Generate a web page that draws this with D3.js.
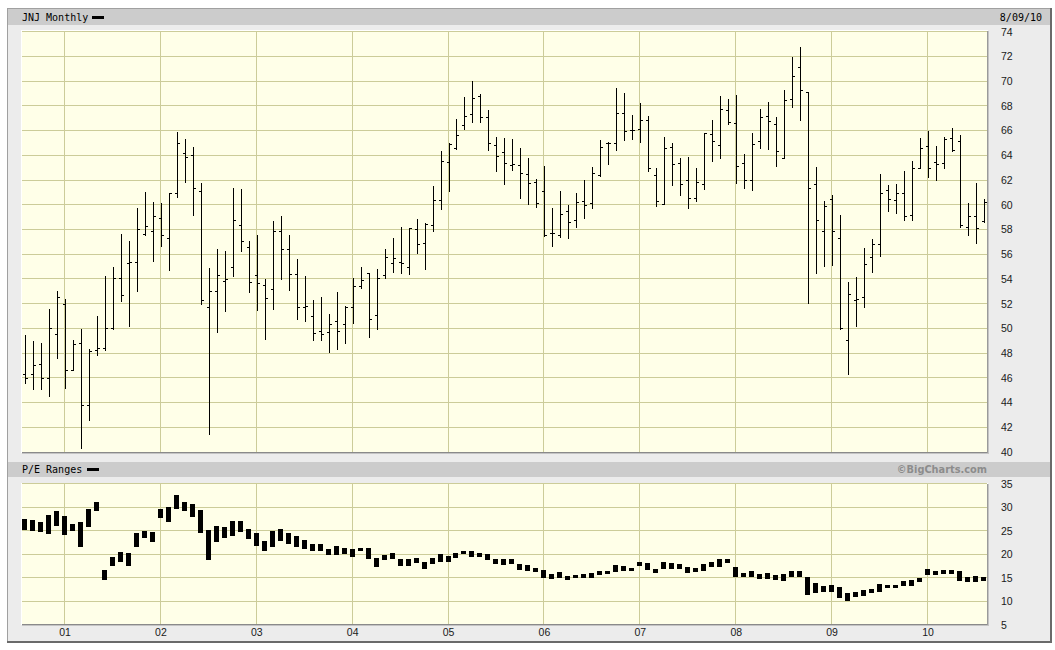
<!DOCTYPE html>
<html><head><meta charset="utf-8">
<script src="https://cdn.jsdelivr.net/npm/d3@7"></script>
<style>body{margin:0;background:#fff}svg{display:block}</style>
</head><body><svg id="c" width="1055" height="650"></svg>
<script>
// ---- categories ----
const months = d3.timeMonth.range(new Date(2000,7,1), new Date(2010,8,1)); // Aug 2000 .. Aug 2010
const yearLabels = ["01","02","03","04","05","06","07","08","09","10"];
const priceTicks = [40,42,44,46,48,50,52,54,56,58,60,62,64,66,68,70,72,74];
const peTicks = [5,10,15,20,25,30,35];

// ---- price series (monthly OHLC) ----
const open = [46.3,46.3,47.08,46.0,49.58,52.0,46.6,48.85,43.77,48.29,
48.45,50.06,54.1,55.3,55.4,57.6,57.88,58.93,57.31,60.95,
64.18,64.0,61.13,51.7,53.0,53.86,54.95,58.36,56.6,54.3,
53.5,53.18,57.87,56.41,54.42,51.72,50.99,49.78,49.7,50.59,
50.35,51.72,53.42,54.47,51.07,54.28,55.28,55.36,55.0,58.05,
56.87,58.35,60.4,63.42,64.63,66.44,67.36,68.76,67.09,64.82,
64.26,63.21,63.21,62.51,61.83,61.1,57.68,57.57,59.46,58.76,
60.27,60.11,62.37,64.96,65.01,67.44,66.01,66.12,66.82,62.43,
60.08,64.64,63.37,62.0,60.57,61.67,65.74,64.82,67.68,66.63,
63.36,61.99,65.14,67.16,66.51,63.8,68.53,71.12,69.13,61.67,
57.87,60.46,57.33,49.07,52.33,52.54,55.77,56.82,61.18,60.38,
60.94,59.19,62.96,64.74,63.42,63.34,65.38,65.14,58.2,59.06,58.68];
const high = [49.45,48.96,48.8,51.55,53.0,52.35,49.1,49.93,48.34,50.98,
54.2,55.0,57.6,57.1,59.7,61.05,60.25,60.14,60.97,65.9,
65.3,64.66,61.75,54.87,56.45,56.23,61.38,61.3,57.1,57.57,
54.0,58.7,59.1,57.57,55.63,54.25,52.31,52.56,51.18,52.93,
51.8,54.06,54.95,54.5,54.79,56.41,57.33,58.22,58.13,58.86,
58.54,61.53,64.31,65.03,66.95,68.73,70.03,68.92,67.68,65.5,
65.42,65.34,64.61,63.8,62.1,63.15,59.76,61.13,59.95,60.97,
62.02,63.07,65.2,65.07,69.46,69.06,67.28,68.25,67.2,62.96,
65.5,65.01,63.77,63.88,62.99,65.82,66.85,68.81,68.57,68.9,
64.12,65.81,67.75,68.32,67.11,69.29,71.95,72.79,69.13,63.07,
60.32,60.81,59.19,53.75,54.18,56.5,57.25,62.5,61.56,61.64,
62.75,63.5,65.41,66.0,64.76,65.52,66.22,65.63,60.16,61.78,60.46];
const low = [45.6,45.1,45.1,44.55,47.6,45.2,46.6,40.3,42.58,47.86,
48.26,49.96,52.2,50.17,53.0,57.53,55.43,56.64,54.7,60.6,
61.83,59.14,52.0,41.42,49.7,51.4,54.24,56.3,52.97,51.52,
49.13,51.53,54.0,53.07,50.72,50.56,49.02,49.1,48.05,48.3,
48.78,50.4,53.23,49.27,49.91,54.04,54.55,54.44,54.36,56.06,
54.77,57.87,59.62,61.15,64.5,66.09,66.66,66.68,64.39,62.7,
61.64,62.83,60.54,60.03,59.78,57.49,56.63,57.41,57.28,58.17,
58.95,59.7,62.29,63.26,64.47,65.2,65.28,65.09,62.7,59.87,
60.03,61.62,60.75,59.7,60.27,61.24,63.5,63.75,66.5,61.73,
61.32,61.16,64.6,64.55,63.1,63.77,67.94,66.89,52.06,54.45,
55.07,55.1,49.96,46.32,50.2,51.73,54.56,55.88,59.46,59.3,
58.73,58.79,62.96,62.21,62.02,63.01,64.36,58.2,57.52,56.88,58.6];
const close = [45.95,47.0,46.0,50.0,52.5,46.6,48.7,43.77,48.2,48.45,
50.0,54.1,52.73,55.4,58.0,58.28,59.09,57.55,60.95,64.98,
63.85,61.35,52.27,53.0,54.3,54.02,58.75,57.1,53.74,53.64,
52.45,57.87,56.41,54.42,51.72,51.8,49.62,49.54,50.35,49.78,
51.72,53.42,53.9,50.77,54.06,55.75,55.67,55.28,58.13,56.79,
58.43,60.4,63.5,64.95,65.68,67.17,68.63,67.09,65.01,63.94,
63.37,63.26,62.61,61.78,60.13,57.57,57.71,59.25,58.6,60.22,
59.97,62.56,64.66,65.01,67.44,65.96,66.04,66.85,62.94,60.27,
64.56,63.32,61.67,60.57,61.83,65.77,65.18,67.76,66.71,63.13,
61.99,64.9,67.08,66.78,64.33,68.45,70.39,69.26,61.35,58.73,
59.94,57.87,50.01,52.76,52.38,55.2,56.82,60.94,60.46,60.94,
59.11,63.01,64.58,62.96,63.31,65.36,64.44,58.33,59.06,58.11,60.21];

// ---- P/E ranges ----
const peHigh = [27.44,27.23,26.94,28.37,29.22,28.15,26.45,26.87,29.64,31.14,
16.64,19.41,20.48,20.26,24.53,24.95,24.74,29.64,30.07,32.63,
31.14,30.71,29.43,25.1,25.95,25.74,27.09,27.09,25.38,24.53,
22.82,24.95,25.38,24.53,23.89,23.03,22.25,22.25,21.19,21.83,
21.4,21.12,21.33,21.33,19.2,19.84,20.19,18.98,18.98,19.2,
18.34,19.2,19.98,19.62,20.19,20.69,20.62,20.26,19.98,18.98,
18.98,18.98,17.92,17.63,17.06,16.64,15.79,16.14,15.43,15.57,
15.71,15.93,16.35,16.43,17.63,17.49,17.06,18.27,18.13,16.92,
18.34,18.06,17.92,17.35,17.06,17.92,18.34,18.98,18.98,17.28,
16.0,16.35,15.86,16.0,15.64,15.79,16.43,16.43,15.15,13.87,
13.3,13.44,12.94,11.73,11.95,12.37,12.59,13.58,13.44,13.44,
14.29,14.51,14.93,16.85,16.43,16.57,16.57,16.43,15.07,15.36,15.15];
const peLow = [25.17,25.02,24.81,24.39,26.09,24.17,25.02,21.61,25.88,29.29,
14.58,17.56,18.42,17.56,21.61,23.53,22.68,27.8,26.94,29.72,
29.29,28.01,24.6,18.84,22.68,23.53,23.96,24.81,23.32,21.83,
20.76,21.61,22.89,22.25,21.61,21.19,20.62,20.62,19.77,19.77,
19.98,19.48,20.62,19.05,17.35,18.84,19.05,17.56,17.56,18.2,
16.92,17.99,18.42,18.42,19.2,19.98,19.48,19.41,18.84,17.99,
17.78,17.99,16.57,16.5,16.28,15.0,14.79,15.0,14.58,14.86,
15.0,14.93,15.57,15.79,16.21,16.5,16.5,17.49,16.71,16.0,
16.78,16.92,16.92,16.07,16.28,16.5,17.35,17.35,18.06,15.07,
15.07,15.07,14.79,14.79,14.51,14.36,15.07,15.07,11.38,11.81,
12.02,12.02,10.74,10.1,10.95,11.17,11.73,12.02,12.8,12.8,
13.23,13.23,14.08,15.57,15.57,15.79,15.79,14.36,14.15,14.15,14.36];

// ---- drawing ----
const svg = d3.select('#c').attr('shape-rendering','crispEdges');
const GRID = '#cccc99', PLOT = '#ffffe8', FRAME = '#ececec', BAND = '#cccccc';
const mono = '"DejaVu Sans Mono", monospace';
const sans = '"Liberation Sans", Arial, sans-serif';

const P1 = {x0:22, x1:987, y0:31, y1:452};
const P2 = {x0:22, x1:987, y0:484, y1:624};

const x = d3.scalePoint().domain(months).range([25.3, 983.5]);
const xc = d => Math.round(x(d));
const yP = d3.scaleLinear().domain([40,74]).range([452,31.7]);
const yE = d3.scaleLinear().domain([5,35]).range([624.7,483.8]);

const bars = months.map((m,i)=>({m, o:open[i], h:high[i], l:low[i], c:close[i], ph:peHigh[i], pl:peLow[i]}));
const jan = months.filter(d=>d.getMonth()===0);

// frame
svg.append('rect').attr('x',7).attr('y',8).attr('width',1044).attr('height',634).attr('fill',FRAME);
svg.append('rect').attr('x',7).attr('y',8).attr('width',1044).attr('height',1).attr('fill','#a0a0a0');
svg.append('rect').attr('x',7).attr('y',8).attr('width',1).attr('height',634).attr('fill','#a0a0a0');
svg.append('rect').attr('x',1050).attr('y',8).attr('width',2).attr('height',635).attr('fill','#6a6a6a');
svg.append('rect').attr('x',7).attr('y',641).attr('width',1045).attr('height',2).attr('fill','#6a6a6a');

// bands
[[9,16],[462,15]].forEach(([y,h])=>{
  svg.append('rect').attr('x',8).attr('y',y).attr('width',1042).attr('height',h).attr('fill',BAND);
});
svg.append('text').attr('x',22).attr('y',21).attr('font-family',mono).attr('font-size',10).attr('fill','#000').text('JNJ Monthly');
svg.append('rect').attr('x',92).attr('y',16).attr('width',12).attr('height',3).attr('fill','#000');
svg.append('text').attr('x',1042).attr('y',21).attr('text-anchor','end').attr('font-family',mono).attr('font-size',10).attr('fill','#000').text('8/09/10');
svg.append('text').attr('x',22).attr('y',473).attr('font-family',mono).attr('font-size',10).attr('fill','#000').text('P/E Ranges');
svg.append('rect').attr('x',87).attr('y',468).attr('width',12).attr('height',3).attr('fill','#000');
svg.append('text').attr('x',987).attr('y',472.5).attr('text-anchor','end').attr('font-family','"DejaVu Sans", sans-serif').attr('font-weight','bold').attr('font-size',9.8).attr('fill','#8c8c8c').text('©BigCharts.com');

function panel(P, yS, hTicks){
  const g = svg.append('g');
  g.append('rect').attr('x',P.x0-1).attr('y',P.y0-1).attr('width',P.x1-P.x0+2).attr('height',P.y1-P.y0+2).attr('fill','#fff');
  g.append('rect').attr('x',P.x0).attr('y',P.y0).attr('width',P.x1-P.x0).attr('height',P.y1-P.y0).attr('fill',PLOT);
  g.selectAll('.h').data(hTicks).join('rect')
    .attr('x',P.x0).attr('width',P.x1-P.x0)
    .attr('y',d=>Math.floor(yS(d))).attr('height',1).attr('fill',GRID);
  g.selectAll('.v').data(jan).join('rect')
    .attr('x',d=>xc(d)-1).attr('width',1)
    .attr('y',P.y0).attr('height',P.y1-P.y0).attr('fill',GRID);
  g.append('rect').attr('x',P.x0).attr('y',P.y1).attr('width',P.x1-P.x0+2).attr('height',1).attr('fill','#8a8a8a');
  g.append('rect').attr('x',P.x0).attr('y',P.y1+1).attr('width',P.x1-P.x0+2).attr('height',1).attr('fill','#c4c4c4');
  g.append('rect').attr('x',P.x1).attr('y',P.y0).attr('width',1).attr('height',P.y1-P.y0+1).attr('fill','#9a9a9a');
  g.append('rect').attr('x',P.x1+1).attr('y',P.y0).attr('width',1).attr('height',P.y1-P.y0+2).attr('fill','#c4c4c4');
  return g;
}
const g1 = panel(P1, yP, priceTicks.filter(v=>v>40));
const g2 = panel(P2, yE, peTicks.filter(v=>v>5));

// OHLC bars
const ob = g1.append('g').attr('fill','#000');
ob.selectAll('.hl').data(bars).join('rect')
  .attr('x',d=>xc(d.m)).attr('width',1)
  .attr('y',d=>Math.round(yP(d.h))).attr('height',d=>Math.max(1,Math.round(yP(d.l))-Math.round(yP(d.h))+1));
ob.selectAll('.op').data(bars).join('rect')
  .attr('x',d=>xc(d.m)-2).attr('width',2)
  .attr('y',d=>Math.round(yP(d.o))).attr('height',1);
ob.selectAll('.cl').data(bars).join('rect')
  .attr('x',d=>xc(d.m)+1).attr('width',2)
  .attr('y',d=>Math.round(yP(d.c))).attr('height',1);

// P/E bars
g2.append('g').attr('fill','#000').selectAll('rect').data(bars).join('rect')
  .attr('x',d=>xc(d.m)-3).attr('width',5)
  .attr('y',d=>Math.round(yE(d.ph))).attr('height',d=>Math.max(2,Math.round(yE(d.pl))-Math.round(yE(d.ph))));

// axes
function styleAxis(sel){
  sel.select('.domain').remove();
  sel.selectAll('line').remove();
  sel.selectAll('text').attr('font-family',sans).attr('font-size',10.5).attr('fill','#1a1a1a');
}
svg.append('g').attr('transform','translate(998,0)')
  .call(d3.axisRight(yP).tickValues(priceTicks).tickSize(0).tickPadding(3).tickFormat(d3.format('d')))
  .call(styleAxis).selectAll('text').attr('text-anchor','start');
svg.append('g').attr('transform','translate(998,0)')
  .call(d3.axisRight(yE).tickValues(peTicks).tickSize(0).tickPadding(3).tickFormat(d3.format('d')))
  .call(styleAxis);
const xYear = d3.scalePoint().domain(yearLabels).range([xc(jan[0])-0.5, xc(jan[jan.length-1])-0.5]);
svg.append('g').attr('transform',`translate(0,${P2.y1})`)
  .call(d3.axisBottom(xYear).tickSize(0).tickPadding(5))
  .call(styleAxis);
</script>
</body></html>
